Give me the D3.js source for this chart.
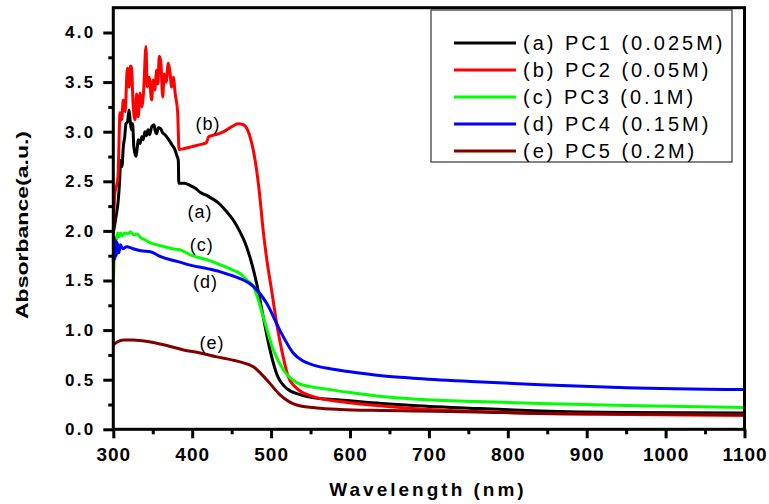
<!DOCTYPE html>
<html>
<head>
<meta charset="utf-8">
<script src="https://cdn.jsdelivr.net/npm/d3@7"></script>
<style>
  body { margin: 0; background: #fff; }
  svg { display: block; font-family: Arial, "Liberation Sans", sans-serif; }
</style>
</head>
<body>
<svg id="chart" width="769" height="504"></svg>
<script>
// absorbance curves, [wavelength nm, absorbance]
const pc1 = [[300,1.98],[303.4,2.14],[306.3,2.31],[308,2.5],[309.4,2.71],[311,2.65],[312.7,2.85],[314.5,2.95],[316,3.08],
  [318,3.1],[320,3.22],[321.5,3.1],[323,3.02],[324.5,3.08],[326,2.85],[328.8,2.75],[330.5,2.85],[331.7,2.92],[334,2.88],
  [336,2.95],[338,2.92],[340,3.0],[342,2.96],[344,3.02],[346,2.97],[348.6,3.05],[351.6,3.07],[353,3.01],[355,2.98],
  [357,3.04],[360,3.03],[362.5,2.99],[365.5,2.97],[368.5,2.94],[371.9,2.9],[375,2.86],[378,2.82],[380.5,2.76],[382.4,2.71],
  [383,2.48],[390,2.48],[397,2.46],[404,2.43],[410,2.39],[420,2.35],[432,2.29],[443,2.2],[452,2.11],[460.6,1.99],
  [467,1.88],[473,1.74],[481.7,1.47],[490,1.135],[498.6,0.8],[507,0.56],[520,0.41],[536.6,0.35],[562,0.31],[587,0.295],
  [640,0.26],[680,0.24],[760,0.21],[841,0.185],[950,0.17],[1100,0.165]];
const pc2 = [[300,1.98],[302,2.38],[304,2.45],[306,2.55],[308.5,3.19],[310.5,3.12],[312.7,3.32],[315,3.2],[317.8,3.64],
  [320,3.45],[321.5,3.66],[323,3.66],[325,3.29],[327.5,3.12],[329.5,3.38],[331.5,3.15],[334,3.39],[336,3.25],[338.5,3.42],
  [341.4,3.86],[343,3.45],[345.5,3.55],[348.6,3.32],[350.5,3.52],[352.5,3.42],[355,3.62],[356.5,3.48],[358.3,3.76],
  [360.3,3.7],[362.6,3.35],[364.5,3.58],[367,3.5],[369.7,3.69],[371.5,3.62],[374,3.45],[376,3.55],[378.5,3.38],
  [381.6,3.19],[383.3,2.82],[390,2.83],[400,2.85],[410,2.87],[418,2.89],[421,2.95],[430,2.97],[440,3.0],[450,3.05],
  [458,3.08],[465,3.07],[470,3.02],[475,2.9],[480,2.7],[485,2.4],[490,2.0],[494.4,1.72],[500.7,1.4],[507,1.07],
  [513.4,0.8],[521.8,0.53],[534.5,0.4],[553.5,0.33],[587,0.28],[620,0.25],[680,0.21],[760,0.18],[841,0.16],[950,0.15],
  [1100,0.14]];
const pc3 = [[300,1.45],[301,1.7],[302,1.85],[304,1.91],[305.5,1.98],[307,1.94],[309,1.98],[311,1.95],[314,1.98],
  [318,1.97],[322,1.99],[326,1.96],[330,1.97],[335,1.93],[340,1.91],[347,1.88],[355,1.86],[365,1.84],[375,1.82],
  [384.5,1.81],[400,1.75],[419,1.71],[435,1.66],[450,1.61],[460.6,1.57],[470,1.5],[477.5,1.44],[490,1.135],[502.8,0.8],
  [515.5,0.6],[532.4,0.47],[550,0.43],[575,0.4],[600,0.37],[640,0.33],[680,0.305],[760,0.28],[841,0.26],[950,0.24],
  [1100,0.22]];
const pc4 = [[300,1.68],[301,1.94],[302,1.72],[303,1.9],[304,1.75],[305,1.88],[307,1.78],[309,1.86],[312,1.82],[317,1.84],
  [325,1.82],[335,1.8],[347,1.79],[360,1.74],[382,1.69],[400,1.65],[419,1.62],[435,1.59],[450,1.55],[460.6,1.52],
  [477.5,1.44],[494.4,1.27],[511,1.0],[528,0.77],[540,0.69],[555,0.645],[575,0.61],[600,0.58],[640,0.54],[680,0.515],
  [760,0.48],[841,0.45],[950,0.42],[1100,0.4]];
const pc5 = [[300,0.85],[305,0.88],[313,0.9],[325,0.9],[347,0.88],[370,0.84],[389,0.8],[410,0.77],[431,0.73],[450,0.7],
  [460.6,0.68],[477.5,0.63],[494.4,0.5],[511,0.35],[532.4,0.245],[557.8,0.215],[587,0.2],[640,0.19],[680,0.185],
  [760,0.175],[841,0.16],[950,0.155],[1100,0.15]];

const seriesNames = ["(a) PC1 (0.025M)", "(b) PC2 (0.05M)", "(c) PC3 (0.1M)", "(d) PC4 (0.15M)", "(e) PC5 (0.2M)"];
const seriesColors = ["#000000", "#ff0000", "#00ff00", "#0000ff", "#800000"];
const seriesData = [pc1, pc2, pc3, pc4, pc5];

// curve labels [text, wavelength, absorbance]
const curveLabels = [["(a)", 410, 2.19], ["(b)", 420, 3.08], ["(c)", 412, 1.86], ["(d)", 417, 1.48], ["(e)", 425, 0.87]];

const xMajor = d3.range(300, 1101, 100);
const xMinor = d3.range(350, 1100, 100);
const yMajor = d3.range(0, 4.01, 0.5);
const yMinor = d3.range(0.25, 4.2, 0.5);

const svg = d3.select("#chart");
const plotL = 113.3, plotR = 744.5, plotT = 7.7, plotB = 429.3;

const x = d3.scaleLinear().domain([300, 1100]).range([plotL, plotR]);
const y = d3.scaleLinear().domain([0, 4.25]).range([plotB, plotT]);

// minor ticks
svg.append("g")
   .attr("transform", `translate(0,${plotB})`)
   .call(d3.axisBottom(x).tickValues(xMinor).tickSize(5).tickFormat(""))
   .call(g => g.select(".domain").remove())
   .call(g => g.selectAll("line").attr("stroke-width", 3));
svg.append("g")
   .attr("transform", `translate(${plotL},0)`)
   .call(d3.axisLeft(y).tickValues(yMinor).tickSize(5).tickFormat(""))
   .call(g => g.select(".domain").remove())
   .call(g => g.selectAll("line").attr("stroke-width", 3));

// major ticks
const xAxis = svg.append("g")
   .attr("transform", `translate(0,${plotB})`)
   .call(d3.axisBottom(x).tickValues(xMajor).tickSize(9).tickPadding(9).tickFormat(d3.format("d")));
xAxis.select(".domain").remove();
xAxis.selectAll("line").attr("stroke-width", 3);
xAxis.selectAll("text")
     .attr("font-family", "Arial, 'Liberation Sans', sans-serif")
     .attr("font-size", 19).attr("font-weight", "bold")
     .attr("letter-spacing", 1).attr("fill", "#000");

const yAxis = svg.append("g")
   .attr("transform", `translate(${plotL},0)`)
   .call(d3.axisLeft(y).tickValues(yMajor).tickSize(10).tickPadding(8).tickFormat(d3.format(".1f")));
yAxis.select(".domain").remove();
yAxis.selectAll("line").attr("stroke-width", 3);
yAxis.selectAll("text")
     .attr("font-family", "Arial, 'Liberation Sans', sans-serif")
     .attr("font-size", 17).attr("font-weight", "bold")
     .attr("letter-spacing", 2.2).attr("fill", "#000");

// curves
const line = d3.line().curve(d3.curveMonotoneX).x(d => x(d[0])).y(d => y(d[1]));
seriesData.forEach((s, i) => {
    svg.append("path")
       .datum(s)
       .attr("d", line)
       .attr("fill", "none")
       .attr("stroke", seriesColors[i])
       .attr("stroke-width", 3)
       .attr("stroke-linejoin", "round");
});

// frame
svg.append("rect")
   .attr("x", plotL).attr("y", plotT)
   .attr("width", plotR - plotL).attr("height", plotB - plotT)
   .attr("fill", "none").attr("stroke", "#000").attr("stroke-width", 3);

// curve labels
svg.selectAll(".clabel")
   .data(curveLabels)
   .enter()
   .append("text")
   .attr("x", d => x(d[1]))
   .attr("y", d => y(d[2]))
   .attr("text-anchor", "middle")
   .attr("dominant-baseline", "central")
   .attr("font-size", 18)
   .attr("letter-spacing", 1)
   .text(d => d[0]);

// legend
const lg = svg.append("g");
lg.append("rect")
  .attr("x", 431).attr("y", 10).attr("width", 301).attr("height", 152)
  .attr("fill", "#fff").attr("stroke", "#333").attr("stroke-width", 1.2);
seriesNames.forEach((name, i) => {
    const ly = 43 + i * 27;
    lg.append("line")
      .attr("x1", 454).attr("x2", 516).attr("y1", ly).attr("y2", ly)
      .attr("stroke", seriesColors[i]).attr("stroke-width", 3);
    lg.append("text")
      .attr("x", 523).attr("y", ly)
      .attr("dominant-baseline", "central")
      .attr("font-size", 20)
      .attr("letter-spacing", 3)
      .text(name);
});

// axis titles
svg.append("text")
   .attr("x", 428).attr("y", 489)
   .attr("text-anchor", "middle")
   .attr("dominant-baseline", "central")
   .attr("font-size", 19).attr("font-weight", "bold")
   .attr("letter-spacing", 3)
   .text("Wavelength (nm)");
svg.append("text")
   .attr("transform", "translate(22,225) rotate(-90)")
   .attr("text-anchor", "middle")
   .attr("dominant-baseline", "central")
   .attr("font-size", 17).attr("font-weight", "bold")
   .attr("textLength", 188).attr("lengthAdjust", "spacingAndGlyphs")
   .text("Absorbance(a.u.)");
</script>
</body>
</html>
